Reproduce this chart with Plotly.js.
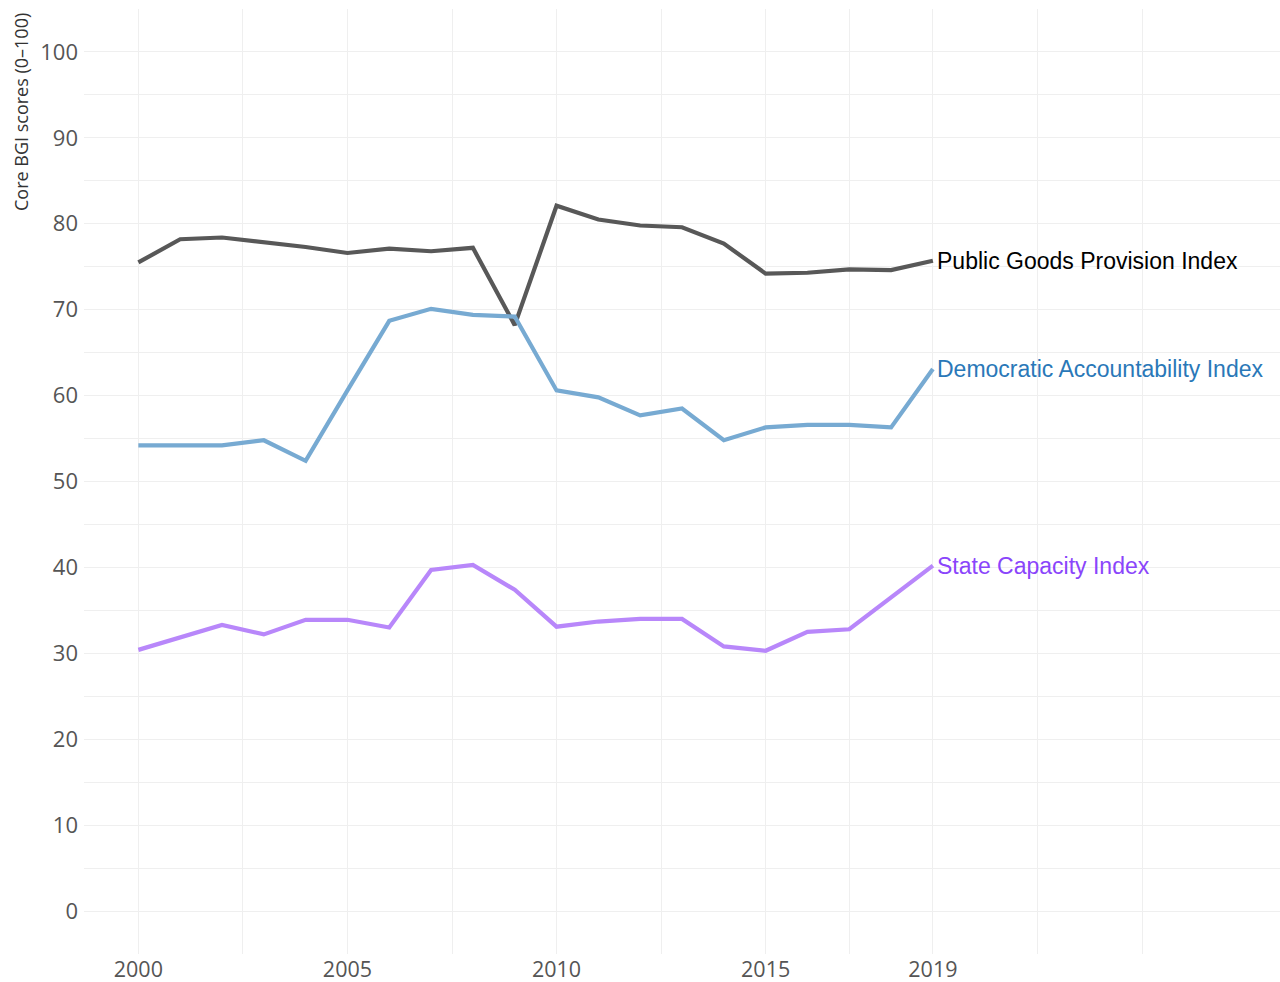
<!DOCTYPE html>
<html>
<head>
<meta charset="utf-8">
<script src="https://cdn.plot.ly/plotly-3.0.1.min.js"></script>
<style>html,body{margin:0;padding:0;background:#fff;}#chart{width:1280px;height:982px;}</style>
</head>
<body>
<div id="chart"></div>
<script>
const years = [2000,2001,2002,2003,2004,2005,2006,2007,2008,2009,2010,2011,2012,2013,2014,2015,2016,2017,2018,2019];
const publicGoods = [75.5,78.2,78.4,77.9,77.3,76.6,77.1,76.8,77.2,68.2,82.1,80.5,79.8,79.6,77.7,74.2,74.3,74.7,74.6,75.7];
const democratic = [54.2,54.2,54.2,54.8,52.4,60.6,68.7,70.1,69.4,69.2,60.6,59.8,57.7,58.5,54.8,56.3,56.6,56.6,56.3,63.1];
const stateCapacity = [30.4,31.8,33.3,32.2,33.9,33.9,33.0,39.7,40.3,37.4,33.1,33.7,34.0,34.0,30.8,30.3,32.5,32.8,36.5,40.2];
const seriesNames = ["Public Goods Provision Index","Democratic Accountability Index","State Capacity Index"];
const xTickVals = [2000,2002.5,2005,2007.5,2010,2012.5,2015,2017,2019,2021.5,2024];
const xTickText = ["2000","","2005","","2010","","2015","","2019","",""];
const yTickVals = [-5,0,5,10,15,20,25,30,35,40,45,50,55,60,65,70,75,80,85,90,95,100,105];
const yTickText = ["","0","","10","","20","","30","","40","","50","","60","","70","","80","","90","","100",""];
const yTitle = "Core BGI scores (0–100)";

const series = [publicGoods, democratic, stateCapacity];
const lineColors = ["#585858","#77aad2","#b887fa"];
const textColors = ["#000000","#2a78b8","#8a45fb"];

const traces = series.map((s,i)=>({
  x: years, y: s, type:'scatter', mode:'lines', name: seriesNames[i],
  line:{color: lineColors[i], width:4.2}, hoverinfo:'x+y'
}));

const annotations = series.map((s,i)=>({
  x: years[years.length-1], y: s[s.length-1], xref:'x', yref:'y',
  text: seriesNames[i], showarrow:false, xanchor:'left', yanchor:'middle', xshift:2,
  font:{family:'Liberation Sans, Arial, sans-serif', size:23, color:textColors[i]}
}));
annotations.push({
  text: yTitle, xref:'paper', yref:'paper', x: (21-84)/1196, y: (954-11)/945,
  xanchor:'center', yanchor:'top', textangle:-90, showarrow:false,
  font:{family:'Open Sans, sans-serif', size:18, color:'#333333'}
});

const layout = {
  width:1280, height:982,
  margin:{l:84, r:0, t:9, b:28},
  paper_bgcolor:'#ffffff', plot_bgcolor:'#ffffff',
  showlegend:false,
  xaxis:{range:[1998.7,2027.3], tickmode:'array', tickvals:xTickVals, ticktext:xTickText,
    showgrid:true, gridcolor:'#efefef', gridwidth:1, zeroline:false, showline:false, ticks:'',
    ticklabelstandoff:0,
    tickfont:{family:'Open Sans, sans-serif', size:21.5, color:'#555555'}},
  yaxis:{range:[-5,105], tickmode:'array', tickvals:yTickVals, ticktext:yTickText,
    showgrid:true, gridcolor:'#efefef', gridwidth:1, zeroline:false, showline:false, ticks:'',
    ticklabelstandoff:5,
    tickfont:{family:'Open Sans, sans-serif', size:22, color:'#555555'}},
  annotations: annotations
};

Plotly.newPlot('chart', traces, layout, {displayModeBar:false, staticPlot:true});
</script>
</body>
</html>
